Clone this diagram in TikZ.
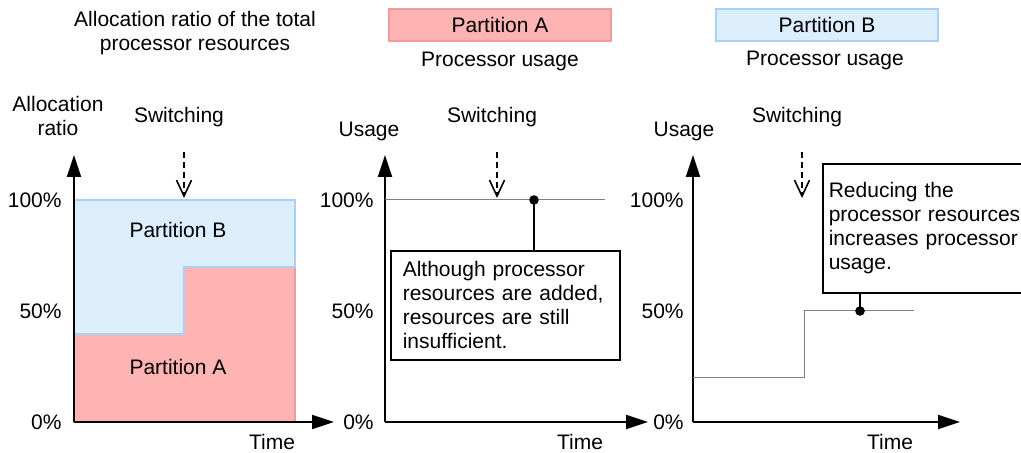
\documentclass[tikz,border=0pt]{standalone}
\usepackage{fontspec}
\setmainfont{Liberation Sans}
\usetikzlibrary{arrows.meta}
\definecolor{partA}{HTML}{FFB4B4}
\definecolor{partAline}{HTML}{F39A9A}
\definecolor{partB}{HTML}{DCEDFC}
\definecolor{partBline}{HTML}{A9D1F6}
\begin{document}
\begin{tikzpicture}[x=0.5pt, y=-0.5pt, every node/.style = {inner sep=0pt, align=center, font=\fontsize{10.5}{11.6}\selectfont}]
	\tikzset{ axis/.style = {line width=1pt, -{Triangle[length=11pt, width=7pt]}} }
	\tikzset{ switching/.style = {thick, dash pattern=on 3pt off 2pt, -{Straight Barb[length=8pt, width=7.5pt]}} }
	\tikzset{ usage/.style = {gray, line width=0.5pt} }
	\tikzset{ note/.style = {draw, line width=0.8pt, anchor=north west, align=left, font=\fontsize{10.5}{12}\selectfont} }
	\tikzset{ legend/.style = {draw, line width=0.6pt, minimum width=111pt, minimum height=16pt} }
	\useasboundingbox (0,0) rectangle (1021,453);
	% legend
	\node (title) at (195,33) {Allocation ratio of the total\\processor resources};
	\node [legend, fill=partA, draw=partAline] (legendA) at (500,25) {Partition A};
	\node (usageA) at (500,61) {Processor usage};
	\node [legend, fill=partB, draw=partBline] (legendB) at (827,25) {Partition B};
	\node (usageB) at (825,60) {Processor usage};
	% allocation ratio
	\fill [partA, draw=partAline, line width=0.8pt] (74,422) -- (74,334) -- (184,334) -- (184,267) -- (295,267) -- (295,422) -- cycle;
	\fill [partB, draw=partBline, line width=0.8pt] (74,334) -- (74,200) -- (295,200) -- (295,267) -- (184,267) -- (184,334) -- cycle;
	\node (ratioB) at (178,230) {Partition B};
	\node (ratioA) at (178,367) {Partition A};
	\coordinate (o1) at (74,422);
	\draw [axis] (o1) -- (74,155);
	\draw [axis] (o1) -- (334,422);
	\node (ratio) at (58,116) {Allocation\\ratio};
	\node (time1) at (272,442) {Time};
	% usage of partition A
	\coordinate (o2) at (385,422);
	\draw [axis] (o2) -- (385,155);
	\draw [axis] (o2) -- (648,422);
	\node (usage2) at (369,131) {Usage};
	\node (time2) at (580,442) {Time};
	\coordinate (full2) at (605,200);
	\draw [usage] (385,200) -- (full2);
	\node [note, text width=102.5pt, inner xsep=6pt, minimum height=54.5pt] (noteA) at (390,250) {Although processor\\resources are added,\\resources are still\\insufficient.};
	\fill (534,200) circle (2.4pt) coordinate (dotA);
	\draw [line width=0.8pt] (dotA) -- (dotA |- noteA.north);
	% usage of partition B
	\coordinate (o3) at (693,422);
	\draw [axis] (o3) -- (693,155);
	\draw [axis] (o3) -- (960,422);
	\node (usage3) at (684,131) {Usage};
	\node (time3) at (890,442) {Time};
	\draw [usage] (693,378) -- (804,378) -- (804,311) -- (914,311);
	\node [note, text width=110pt, inner xsep=3pt, minimum height=64.5pt] (noteB) at (822,163) {Reducing the\\processor resources\\increases processor\\usage.};
	\fill (860,311) circle (2.4pt) coordinate (dotB);
	\draw [line width=0.8pt] (dotB) -- (dotB |- noteB.south);
	% scale and switching
	\foreach \ox/\sx in {62/184, 374/497, 684/802} {
		\node [anchor=east] at (\ox,200) {100\%};
		\node [anchor=east] at (\ox,311) {50\%};
		\node [anchor=east] at (\ox,422) {0\%};
		\node (switch) at (\sx-5,117) {Switching};
		\draw [switching] (\sx,152) -- (\sx,198);
	}
\end{tikzpicture}
\end{document}
